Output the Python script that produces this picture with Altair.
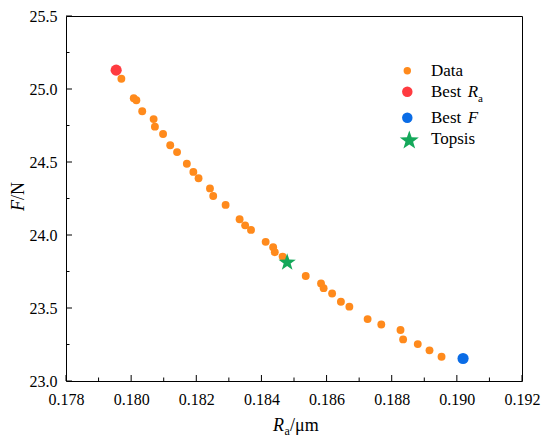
import altair as alt
import pandas as pd

# ---- data ----
ra_data = [0.17970, 0.18008, 0.18016, 0.18034, 0.18069, 0.18073, 0.18098, 0.18120,
           0.18141, 0.18171, 0.18191, 0.18207, 0.18242, 0.18252, 0.18290, 0.18333,
           0.18350, 0.18368, 0.18413, 0.18436, 0.18441, 0.18465, 0.18536, 0.18583,
           0.18591, 0.18617, 0.18644, 0.18670, 0.18726, 0.18768, 0.18827, 0.18835,
           0.18880, 0.18916, 0.18953]
f_data = [25.070, 24.937, 24.923, 24.848, 24.794, 24.742, 24.692, 24.615,
          24.568, 24.488, 24.432, 24.389, 24.319, 24.267, 24.206, 24.108,
          24.066, 24.035, 23.953, 23.916, 23.882, 23.852, 23.719, 23.668,
          23.636, 23.599, 23.543, 23.509, 23.424, 23.387, 23.349, 23.285,
          23.253, 23.210, 23.166]
best_ra_x = [0.17954]
best_ra_y = [25.129]
best_f_x = [0.19019]
best_f_y = [23.154]
topsis_x = [0.18479]
topsis_y = [23.812]

x_major = [0.178, 0.180, 0.182, 0.184, 0.186, 0.188, 0.190, 0.192]
x_minor = [0.179, 0.181, 0.183, 0.185, 0.187, 0.189, 0.191]
y_major = [23.0, 23.5, 24.0, 24.5, 25.0, 25.5]
y_minor = [23.25, 23.75, 24.25, 24.75, 25.25]

FONT = "Liberation Serif, Times New Roman, DejaVu Serif, serif"
ORANGE = "#FF8A1C"
RED = "#FF3B40"
BLUE = "#0A6CE6"
GREEN = "#14A85A"
STAR = ("M0,-1L0.2351,-0.3236L0.9511,-0.309L0.3804,0.1236L0.5878,0.809L0,0.4"
        "L-0.5878,0.809L-0.3804,0.1236L-0.9511,-0.309L-0.2351,-0.3236Z")
W, H = 456, 365

xs = alt.Scale(domain=[0.178, 0.192], nice=False, zero=False)
ys = alt.Scale(domain=[23.0, 25.5], nice=False, zero=False)

xax = alt.Axis(orient="bottom", values=x_major, format=".3f", ticks=False, tickSize=0,
               domain=False, grid=False, labelFont=FONT, labelFontSize=16,
               labelColor="black", labelPadding=10, labelFlush=False,
               labelOverlap=False, title="")
yax = alt.Axis(orient="left", values=y_major, format=".1f", ticks=False, tickSize=0,
               domain=False, grid=False, labelFont=FONT, labelFontSize=16,
               labelColor="black", labelPadding=9, labelFlush=False,
               labelOverlap=False, title="")

one = pd.DataFrame({"k": [0]})


def X(field):
    return alt.X(field + ":Q", scale=xs, axis=xax)


def Y(field):
    return alt.Y(field + ":Q", scale=ys, axis=yax)


def label(text, x, y, size=17, style="normal", align="left", baseline="middle", angle=0):
    return alt.Chart(one).mark_text(
        text=text, font=FONT, fontSize=size, fontStyle=style, align=align,
        baseline=baseline, angle=angle, color="black"
    ).encode(x=alt.value(x), y=alt.value(y))


def sym(x, y, shape, size, color):
    return alt.Chart(one).mark_point(
        shape=shape, size=size, filled=True, color=color, opacity=1, strokeWidth=0
    ).encode(x=alt.value(x), y=alt.value(y))


# ticks (inward)
xmaj = alt.Chart(pd.DataFrame({"v": x_major})).mark_rule(color="black", strokeWidth=1).encode(
    x=X("v"), y=alt.value(H), y2=alt.value(H - 6))
xmin = alt.Chart(pd.DataFrame({"v": x_minor})).mark_rule(color="black", strokeWidth=1).encode(
    x=X("v"), y=alt.value(H), y2=alt.value(H - 3.5))
ymaj = alt.Chart(pd.DataFrame({"v": y_major})).mark_rule(color="black", strokeWidth=1).encode(
    y=Y("v"), x=alt.value(0), x2=alt.value(6))
ymin = alt.Chart(pd.DataFrame({"v": y_minor})).mark_rule(color="black", strokeWidth=1).encode(
    y=Y("v"), x=alt.value(0), x2=alt.value(3.5))

pts = alt.Chart(pd.DataFrame({"Ra": ra_data, "F": f_data})).mark_circle(
    size=62, color=ORANGE, opacity=1).encode(x=X("Ra"), y=Y("F"))
bra = alt.Chart(pd.DataFrame({"Ra": best_ra_x, "F": best_ra_y})).mark_circle(
    size=125, color=RED, opacity=1).encode(x=X("Ra"), y=Y("F"))
bf = alt.Chart(pd.DataFrame({"Ra": best_f_x, "F": best_f_y})).mark_circle(
    size=125, color=BLUE, opacity=1).encode(x=X("Ra"), y=Y("F"))
tp = alt.Chart(pd.DataFrame({"Ra": topsis_x, "F": topsis_y})).mark_point(
    shape=STAR, size=330, filled=True, color=GREEN, opacity=1, strokeWidth=0).encode(
    x=X("Ra"), y=Y("F"))

layers = [xmaj, xmin, ymaj, ymin, pts, bra, bf, tp]

# axis titles
layers += [
    label("R", 218, 415, size=18, style="italic", align="right", baseline="alphabetic"),
    label("a", 218.5, 418.5, size=12, baseline="alphabetic"),
    label("/\u03bcm", 224, 415, size=18, baseline="alphabetic"),
    label("F", -47, 184, size=18, style="italic", align="right", angle=270),
    label("/N", -47, 184, size=18, align="left", angle=270),
]

# legend
layers += [
    sym(341.3, 54.7, "circle", 55, ORANGE),
    label("Data", 365, 54.7),
    sym(341.3, 75.7, "circle", 110, RED),
    label("Best", 365, 75.7),
    label("R", 401.7, 75.7, style="italic"),
    label("a", 412, 83.3, size=11),
    sym(341.3, 101.7, "circle", 110, BLUE),
    label("Best", 365, 101.7),
    label("F", 401.7, 101.7, style="italic"),
    sym(343.3, 124.5, STAR, 400, GREEN),
    label("Topsis", 365, 123.3),
]

chart = alt.layer(*layers).properties(
    width=W, height=H,
    padding={"left": 58, "top": 8, "right": 20, "bottom": 56},
    autosize=alt.AutoSizeParams(type="none"),
    background="white",
).configure_view(stroke="black", strokeWidth=1)

chart.save("out.html", embed_options={"renderer": "svg", "actions": False})
